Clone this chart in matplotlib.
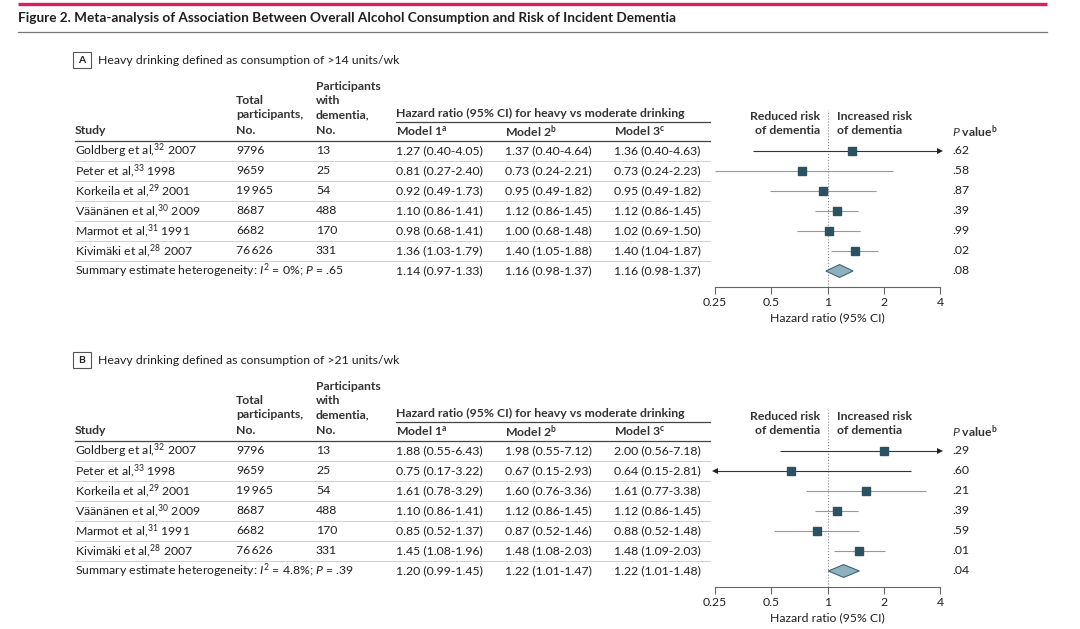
import numpy as np
import matplotlib
matplotlib.use("Agg")
import matplotlib.pyplot as plt
from matplotlib.patches import Rectangle, Polygon

plt.rcParams['font.family'] = ['Lato', 'DejaVu Sans']
plt.rcParams['mathtext.fontset'] = 'custom'
plt.rcParams['mathtext.rm'] = 'Lato'
plt.rcParams['mathtext.it'] = 'Lato:italic'
plt.rcParams['mathtext.bf'] = 'Lato:bold'
plt.rcParams['mathtext.default'] = 'regular'

# ---- data ----
studies = ["Goldberg et al,", "Peter et al,", "Korkeila et al,", "Väänänen et al,",
           "Marmot et al,", "Kivimäki et al,"]
refs = [32, 33, 29, 30, 31, 28]
years = [2007, 1998, 2001, 2009, 1991, 2007]
total_n = [9796, 9659, 19965, 8687, 6682, 76626]
cases_n = [13, 25, 54, 488, 170, 331]

# (hr, lo, hi), last entry is the summary estimate
a_m1 = [(1.27, 0.40, 4.05), (0.81, 0.27, 2.40), (0.92, 0.49, 1.73), (1.10, 0.86, 1.41),
        (0.98, 0.68, 1.41), (1.36, 1.03, 1.79), (1.14, 0.97, 1.33)]
a_m2 = [(1.37, 0.40, 4.64), (0.73, 0.24, 2.21), (0.95, 0.49, 1.82), (1.12, 0.86, 1.45),
        (1.00, 0.68, 1.48), (1.40, 1.05, 1.88), (1.16, 0.98, 1.37)]
a_m3 = [(1.36, 0.40, 4.63), (0.73, 0.24, 2.23), (0.95, 0.49, 1.82), (1.12, 0.86, 1.45),
        (1.02, 0.69, 1.50), (1.40, 1.04, 1.87), (1.16, 0.98, 1.37)]
a_p = [".62", ".58", ".87", ".39", ".99", ".02", ".08"]
a_het = ("0%", ".65")

b_m1 = [(1.88, 0.55, 6.43), (0.75, 0.17, 3.22), (1.61, 0.78, 3.29), (1.10, 0.86, 1.41),
        (0.85, 0.52, 1.37), (1.45, 1.08, 1.96), (1.20, 0.99, 1.45)]
b_m2 = [(1.98, 0.55, 7.12), (0.67, 0.15, 2.93), (1.60, 0.76, 3.36), (1.12, 0.86, 1.45),
        (0.87, 0.52, 1.46), (1.48, 1.08, 2.03), (1.22, 1.01, 1.47)]
b_m3 = [(2.00, 0.56, 7.18), (0.64, 0.15, 2.81), (1.61, 0.77, 3.38), (1.12, 0.86, 1.45),
        (0.88, 0.52, 1.48), (1.48, 1.09, 2.03), (1.22, 1.01, 1.48)]
b_p = [".29", ".60", ".21", ".39", ".59", ".01", ".04"]
b_het = ("4.8%", ".39")

xticks = [0.25, 0.5, 1, 2, 4]
xticklabels = ["0.25", "0.5", "1", "2", "4"]

TXT = "#231f20"
FS = 8.8
W, H = 1080, 629


def fmt_n(n):
    s = str(n)
    if n >= 10000:
        s = s[:-3] + "\u2009" + s[-3:]
    return s


def fmt_hr(t):
    return "%.2f (%.2f-%.2f)" % t


def panel(fig, bg, dy, letter, heading, m1, m2, m3, pvals, het):
    """
    Draw one table + forest plot, shifted down by dy pixels
    """
    # panel label box
    bg.add_patch(Rectangle((73, 52 + dy), 18, 16, fill=False, ec="#555", lw=0.8))
    bg.text(82, 60.5 + dy, letter, ha="center", va="center", fontsize=7.5, weight="bold", color=TXT)
    bg.text(98, 60 + dy, heading, ha="left", va="center", fontsize=FS, color=TXT)

    # header
    hw = "bold"
    hc = "#333"
    bg.text(316, 86 + dy, "Participants", va="center", fontsize=FS, weight=hw, color=hc)
    bg.text(236, 100 + dy, "Total", va="center", fontsize=FS, weight=hw, color=hc)
    bg.text(316, 100 + dy, "with", va="center", fontsize=FS, weight=hw, color=hc)
    bg.text(236, 115 + dy, "participants,", va="center", fontsize=FS, weight=hw, color=hc)
    bg.text(316, 115 + dy, "dementia,", va="center", fontsize=FS, weight=hw, color=hc)
    bg.text(396, 113 + dy, "Hazard ratio (95% CI) for heavy vs moderate drinking", va="center",
            fontsize=FS, weight=hw, color=hc)
    bg.text(75, 131 + dy, "Study", va="center", fontsize=FS, weight=hw, color=hc)
    bg.text(236, 131 + dy, "No.", va="center", fontsize=FS, weight=hw, color=hc)
    bg.text(316, 131 + dy, "No.", va="center", fontsize=FS, weight=hw, color=hc)
    bg.text(396, 131 + dy, "Model 1$^{a}$", va="center", fontsize=FS, weight=hw, color=hc)
    bg.text(505, 131 + dy, "Model 2$^{b}$", va="center", fontsize=FS, weight=hw, color=hc)
    bg.text(614, 131 + dy, "Model 3$^{c}$", va="center", fontsize=FS, weight=hw, color=hc)
    bg.text(820, 116 + dy, "Reduced risk", ha="right", va="center", fontsize=FS, weight=hw, color=hc)
    bg.text(820, 131 + dy, "of dementia", ha="right", va="center", fontsize=FS, weight=hw, color=hc)
    bg.text(837, 116 + dy, "Increased risk", ha="left", va="center", fontsize=FS, weight=hw, color=hc)
    bg.text(837, 131 + dy, "of dementia", ha="left", va="center", fontsize=FS, weight=hw, color=hc)
    bg.text(952, 131 + dy, "$\\mathit{P}$ value$^{b}$", va="center", fontsize=FS, weight=hw, color=hc)

    bg.plot([396, 710], [122 + dy, 122 + dy], color="#444", lw=0.9)
    bg.plot([75, 710], [141 + dy, 141 + dy], color="#444", lw=0.9)

    # rows
    for i in range(len(studies)):
        y = 151 + 20 * i + dy
        bg.text(75, y, "%s$^{%d}$ %d" % (studies[i], refs[i], years[i]), va="center", fontsize=FS, color=TXT)
        bg.text(236, y, fmt_n(total_n[i]), va="center", fontsize=FS, color=TXT)
        bg.text(316, y, str(cases_n[i]), va="center", fontsize=FS, color=TXT)
        bg.plot([75, 710], [y + 10, y + 10], color="#cfcfcf", lw=0.7)
    y = 151 + 20 * len(studies) + dy
    bg.text(75, y, "Summary estimate heterogeneity: $\\mathit{I}^{2}$ = %s; $\\mathit{P}$ = %s" % het,
            va="center", fontsize=FS, color=TXT)
    for i in range(len(m1)):
        y = 151 + 20 * i + dy
        bg.text(396, y, fmt_hr(m1[i]), va="center", fontsize=FS, color=TXT)
        bg.text(505, y, fmt_hr(m2[i]), va="center", fontsize=FS, color=TXT)
        bg.text(614, y, fmt_hr(m3[i]), va="center", fontsize=FS, color=TXT)
        bg.text(952, y, pvals[i], va="center", fontsize=FS, color=TXT)

    # forest plot (model 3)
    top, bot = 110 + dy, 287 + dy
    ax = fig.add_axes([715 / W, 1 - bot / H, 225 / W, (bot - top) / H])
    ax.set_xscale("log", base=2)
    ax.set_xlim(0.25, 4)
    ax.set_ylim((bot - dy - 151) / 20, (top - dy - 151) / 20)
    ax.patch.set_alpha(0)
    for s in ["top", "right", "left"]:
        ax.spines[s].set_visible(False)
    ax.spines["bottom"].set_color("#666")
    ax.spines["bottom"].set_linewidth(0.8)
    ax.set_yticks([])
    ax.set_xticks(xticks)
    ax.set_xticklabels(xticklabels)
    ax.minorticks_off()
    ax.tick_params(axis="x", length=5, width=0.8, color="#666", pad=2, labelsize=FS, labelcolor=TXT)
    ax.set_xlabel("Hazard ratio (95% CI)", fontsize=FS, color=TXT, labelpad=3)
    ax.axvline(1, color="#888", ls=":", lw=0.8)

    xmin, xmax = 0.25, 4
    for i in range(len(m3) - 1):
        hr, lo, hi = m3[i]
        left_arrow = lo < xmin * 0.9
        right_arrow = hi > xmax * 1.05
        lc = "#333" if (left_arrow or right_arrow) else "#999"
        ax.plot([max(lo, xmin), min(hi, xmax)], [i, i], color=lc, lw=0.8, solid_capstyle="butt")
        if right_arrow:
            ax.plot([xmax], [i], marker=">", ms=5, color="#222", mew=0, clip_on=False)
        if left_arrow:
            ax.plot([xmin], [i], marker="<", ms=5, color="#222", mew=0, clip_on=False)
        ax.plot([hr], [i], marker="s", ms=6.3, color="#2b5262", mec="#2b5262", zorder=3)
    hr, lo, hi = m3[-1]
    k = len(m3) - 1
    ax.add_patch(Polygon([(lo, k), (hr, k - 0.32), (hi, k), (hr, k + 0.32)], closed=True,
                         fc="#8eb1bf", ec="#3f6474", lw=0.8, zorder=3))
    return ax


def main():
    fig = plt.figure(figsize=(W / 100, H / 100), dpi=100)
    bg = fig.add_axes([0, 0, 1, 1])
    bg.set_xlim(0, W)
    bg.set_ylim(H, 0)
    bg.axis("off")

    bg.plot([18, 1047], [3.5, 3.5], color="#dc1f5c", lw=2.4, solid_capstyle="butt")
    bg.text(18, 18, "Figure 2. Meta-analysis of Association Between Overall Alcohol Consumption "
            "and Risk of Incident Dementia", va="center", fontsize=9.8, weight="bold", color=TXT)
    bg.plot([18, 1047], [32, 32], color="#777", lw=0.9)

    panel(fig, bg, 0, "A", "Heavy drinking defined as consumption of >14 units/wk",
          a_m1, a_m2, a_m3, a_p, a_het)
    panel(fig, bg, 300, "B", "Heavy drinking defined as consumption of >21 units/wk",
          b_m1, b_m2, b_m3, b_p, b_het)

    fig.savefig("out.png", dpi=100)


if __name__ == "__main__":
    main()
